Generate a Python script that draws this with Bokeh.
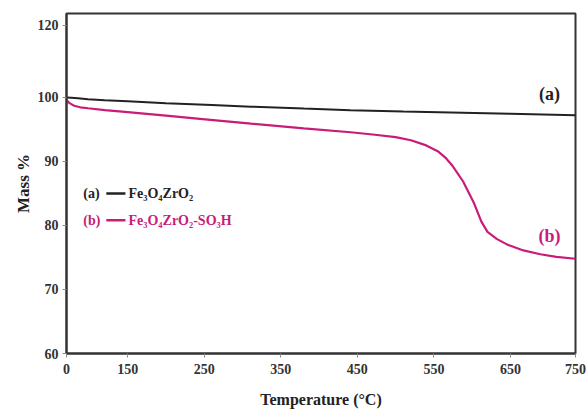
from bokeh.plotting import figure
from bokeh.models import FixedTicker, Range1d, Title
from bokeh.core.properties import value
from bokeh.embed import file_html
from bokeh.resources import INLINE

# Temperature (°C) sample points
temp_a = [70, 76, 85, 98, 120, 150, 200, 260, 311, 380, 441, 510, 572, 650, 735]
mass_a = [100.0, 99.95, 99.85, 99.7, 99.55, 99.4, 99.1, 98.8, 98.55, 98.25, 98.0, 97.8, 97.65, 97.45, 97.2]

temp_b = [70, 74, 80, 88, 98, 120, 150, 200, 258, 311, 380, 441, 470, 500, 520, 540,
          555, 565, 575, 588, 602, 612, 620, 632, 646, 667, 689, 710, 735]
mass_b = [99.6, 99.1, 98.7, 98.45, 98.3, 98.0, 97.7, 97.15, 96.5, 95.9, 95.15, 94.55, 94.2, 93.8, 93.3, 92.5,
          91.6, 90.6, 89.2, 86.9, 83.6, 80.6, 79.0, 77.9, 77.0, 76.1, 75.5, 75.1, 74.8]

x_ticks = [70, 150, 250, 350, 450, 550, 650, 735]
x_tick_labels = ["0", "150", "250", "350", "450", "550", "650", "750"]
y_ticks = [60, 70, 80, 90, 100, 111.25]
y_tick_labels = ["60", "70", "80", "90", "100", "120"]

series_names = ["Fe\u2083O\u2084ZrO\u2082", "Fe\u2083O\u2084ZrO\u2082-SO\u2083H"]
series_tags = ["(a)", "(b)"]
series_colors = ["#222222", "#c81c78"]

FONT = "Liberation Serif"

p = figure(output_backend="svg", toolbar_location=None,
           frame_width=509, frame_height=340,
           x_range=Range1d(70, 735), y_range=Range1d(60, 113.1),
           min_border_left=66, min_border_right=12, min_border_top=13, min_border_bottom=59)

p.background_fill_color = "white"
p.border_fill_color = "white"
p.outline_line_color = "#333333"
p.outline_line_width = 2
p.grid.visible = False

p.xaxis.ticker = FixedTicker(ticks=x_ticks)
p.xaxis.major_label_overrides = {t: l for t, l in zip(x_ticks, x_tick_labels)}
p.yaxis.ticker = FixedTicker(ticks=y_ticks)
p.yaxis.major_label_overrides = {t: l for t, l in zip(y_ticks, y_tick_labels)}

for ax in (p.xaxis, p.yaxis):
    ax.axis_line_color = "#333333"
    ax.axis_line_width = 2
    ax.major_tick_line_color = "#888888"
    ax.major_tick_out = 4
    ax.major_tick_in = 0
    ax.minor_tick_line_color = None
    ax.major_label_text_font = FONT
    ax.major_label_text_font_style = "bold"
    ax.major_label_text_font_size = "14px"
    ax.major_label_text_color = "#333333"

p.xaxis.major_label_standoff = 6
p.yaxis.major_label_standoff = 4

p.xaxis.axis_label = "Temperature (\u00b0C)"
p.xaxis.axis_label_text_font = FONT
p.xaxis.axis_label_text_font_style = "bold"
p.xaxis.axis_label_text_font_size = "16px"
p.xaxis.axis_label_text_color = "#222222"
p.xaxis.axis_label_standoff = 14

ytitle = Title(text="Mass %", align="center", offset=25,
               text_font=FONT, text_font_style="bold", text_font_size="17px",
               text_color="#222222", standoff=4)
p.add_layout(ytitle, "left")

p.line(temp_a, mass_a, line_color=series_colors[0], line_width=2)
p.line(temp_b, mass_b, line_color=series_colors[1], line_width=2.2)

# curve tags
p.text(x=[701, 701], y=[100.6, 78.4], text=series_tags,
       text_color=series_colors, text_font=value(FONT), text_font_style="bold",
       text_font_size="18px", text_align="center", text_baseline="middle")

# legend rows
leg_y = [85.0, 80.8]
p.text(x=[92, 92], y=leg_y, text=series_tags, text_color=series_colors,
       text_font=value(FONT), text_font_style="bold", text_font_size="14px",
       text_align="left", text_baseline="middle")
p.segment(x0=[122, 122], y0=leg_y, x1=[147, 147], y1=leg_y,
          line_color=series_colors, line_width=2.5)
p.text(x=[151, 151], y=leg_y, text=series_names, text_color=series_colors,
       text_font=value(FONT), text_font_style="bold", text_font_size="14px",
       text_align="left", text_baseline="middle")

open("out.html", "w").write(file_html(p, INLINE))
